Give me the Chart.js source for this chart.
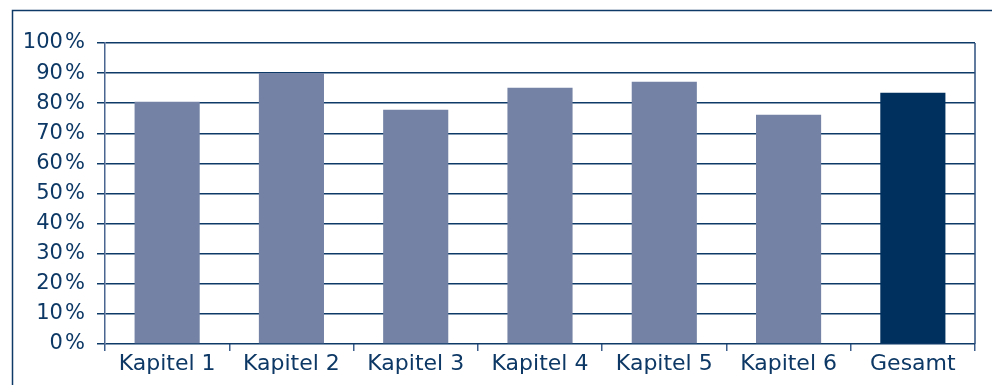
<!DOCTYPE html>
<html>
<head>
<meta charset="utf-8">
<script src="https://cdn.jsdelivr.net/npm/chart.js@4"></script>
<style>
  html, body { margin: 0; padding: 0; background: #ffffff; }
  #wrap { width: 992px; height: 385px; position: relative; }
</style>
</head>
<body>
<div id="wrap"><canvas id="myChart"></canvas></div>
<script>
const categories = ['Kapitel 1', 'Kapitel 2', 'Kapitel 3', 'Kapitel 4', 'Kapitel 5', 'Kapitel 6', 'Gesamt'];
const scores = [80.5, 90, 77.8, 85.1, 87.1, 76.2, 83.5];
const barColors = ['#7382a5', '#7382a5', '#7382a5', '#7382a5', '#7382a5', '#7382a5', '#00305e'];
const yTicks = [0, 10, 20, 30, 40, 50, 60, 70, 80, 90, 100];

const textColor = '#0d3865';
const lineColor = '#0e3a68';

// outer frame and right edge of the plot
const framePlugin = {
    id: 'frame',
    beforeDraw(chart) {
        const c = chart.ctx;
        c.save();
        c.strokeStyle = lineColor;
        c.lineWidth = 1.5;
        c.beginPath();
        c.moveTo(12.5, 400);
        c.lineTo(12.5, 10.5);
        c.lineTo(1000, 10.5);
        c.stroke();
        c.restore();
    },
    afterDatasetsDraw(chart) {
        const a = chart.chartArea;
        const c = chart.ctx;
        c.save();
        c.strokeStyle = '#2b4f7e';
        c.lineWidth = 1.5;
        c.beginPath();
        c.moveTo(a.right, a.top);
        c.lineTo(a.right, a.bottom);
        c.stroke();
        c.restore();
    }
};

const ctx = document.getElementById('myChart');
Chart.defaults.font.family = '"DejaVu Sans", sans-serif';
Chart.defaults.color = textColor;

new Chart(ctx, {
    type: 'bar',
    data: {
        labels: categories,
        datasets: [{
            label: 'Anteil',
            data: scores,
            backgroundColor: barColors,
            borderWidth: 0,
            categoryPercentage: 1,
            barPercentage: 0.524
        }]
    },
    options: {
        responsive: true,
        maintainAspectRatio: false,
        animation: false,
        layout: { padding: { top: 43, right: 17, bottom: 0, left: 0 } },
        plugins: {
            legend: { display: false },
            tooltip: { enabled: false }
        },
        scales: {
            x: {
                offset: true,
                grid: {
                    offset: true,
                    drawOnChartArea: false,
                    drawTicks: true,
                    tickLength: 7,
                    color: '#3c5f8c',
                    lineWidth: 1.5
                },
                border: { display: false },
                ticks: {
                    padding: 0,
                    font: { size: 22 },
                    color: textColor,
                    maxRotation: 0
                },
                afterFit(scale) { scale.height = 41; }
            },
            y: {
                min: 0,
                max: 100,
                afterBuildTicks(scale) {
                    scale.ticks = yTicks.map(v => ({ value: v }));
                },
                grid: {
                    color: lineColor,
                    lineWidth: 1.5,
                    tickLength: 8
                },
                border: { display: true, color: '#4a6690', width: 1.5 },
                ticks: {
                    padding: 12,
                    font: { size: 21 },
                    color: textColor,
                    callback: v => v + '\u200a%'
                },
                afterFit(scale) { scale.width = 105; }
            }
        }
    },
    plugins: [framePlugin]
});
</script>
</body>
</html>
